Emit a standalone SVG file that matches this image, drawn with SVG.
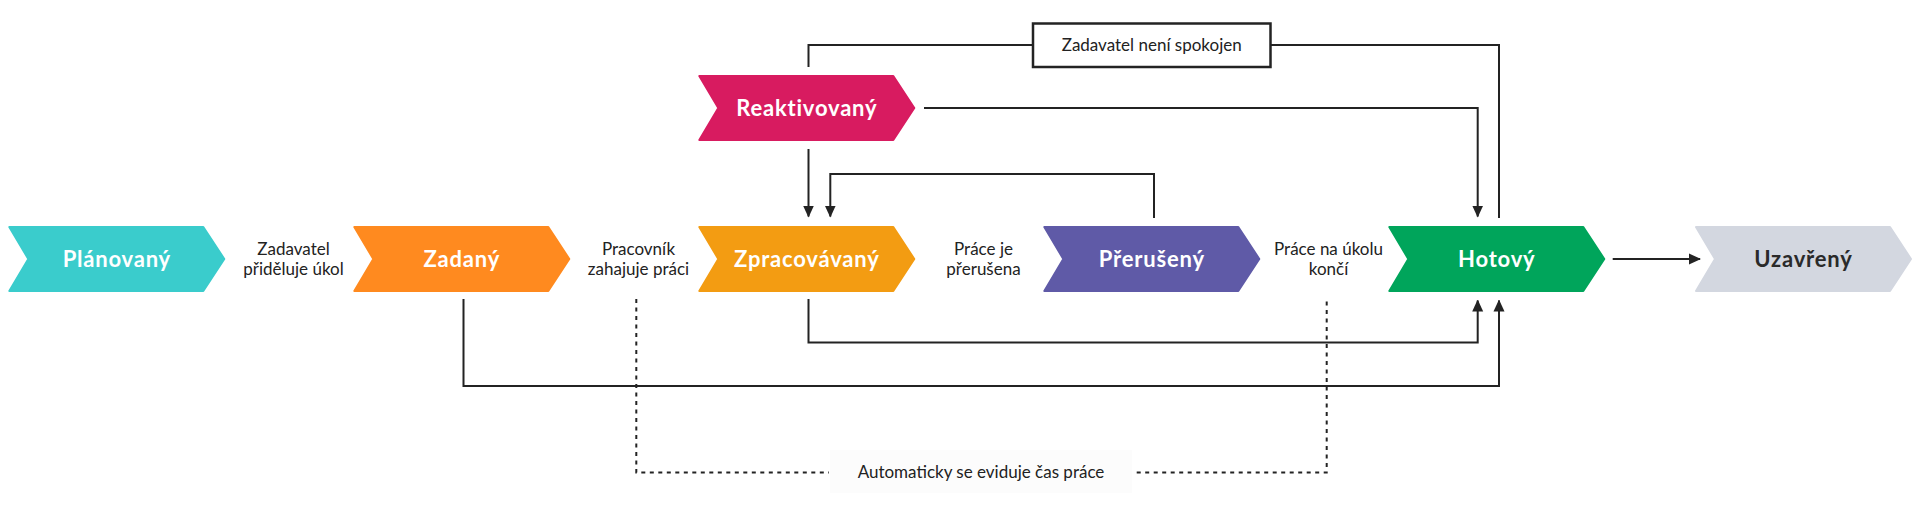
<svg xmlns="http://www.w3.org/2000/svg" width="1920" height="518" viewBox="0 0 1920 518">
<style>
.chev{stroke-width:2;stroke-linejoin:round}
.lbl{font-family:Lato,"Open Sans","Liberation Sans",sans-serif;font-weight:700;font-size:22px;letter-spacing:0.8px;fill:#fff;text-anchor:middle}
.txt{font-family:Lato,"Open Sans","Liberation Sans",sans-serif;font-size:17px;fill:#222;text-anchor:middle}
.con{fill:none;stroke:#232323;stroke-width:2}
.dot{fill:none;stroke:#232323;stroke-width:2;stroke-dasharray:4 4.5}
</style>
<defs>
<marker id="arr" viewBox="0 0 12 12" refX="11" refY="6" markerWidth="12" markerHeight="12" markerUnits="userSpaceOnUse" orient="auto">
<path d="M0,0.5 L12,6 L0,11.5 Z" fill="#232323"/>
</marker>
<path id="chevshape" d="M0,0 H194 L215,32 L194,64 H0 L19,32 Z"/>
</defs>
<rect width="1920" height="518" fill="#fff"/>

<g id="connectors">
<polyline class="con" points="808.5,67 808.5,45 1033,45"/>
<polyline class="con" points="1270.5,45 1499,45 1499,218"/>
<polyline class="con" points="924,108 1477.7,108 1477.7,216.5" marker-end="url(#arr)"/>
<polyline class="con" points="808.5,149 808.5,216.5" marker-end="url(#arr)"/>
<polyline class="con" points="1154,218 1154,174 830.3,174 830.3,216.5" marker-end="url(#arr)"/>
<polyline class="con" points="808.5,299 808.5,342.5 1477.7,342.5 1477.7,300.5" marker-end="url(#arr)"/>
<polyline class="con" points="463.5,299 463.5,386 1499,386 1499,300.5" marker-end="url(#arr)"/>
<polyline class="con" points="1612.7,259 1700,259" marker-end="url(#arr)"/>
<polyline class="dot" points="636.3,299 636.3,472.5 829,472.5"/>
<polyline class="dot" points="1136.7,472.5 1326.7,472.5 1326.7,299"/>
</g>

<g id="n-planovany">
<use href="#chevshape" x="9.3" y="227" fill="#3ACCCC" stroke="#3ACCCC" class="chev"/>
<text class="lbl" x="116.8" y="267">Plánovaný</text>
</g>
<g id="n-zadany">
<use href="#chevshape" x="354.3" y="227" fill="#FF8A1F" stroke="#FF8A1F" class="chev"/>
<text class="lbl" x="461.8" y="267">Zadaný</text>
</g>
<g id="n-zpracovavany">
<use href="#chevshape" x="699.3" y="227" fill="#F39C12" stroke="#F39C12" class="chev"/>
<text class="lbl" x="806.8" y="267">Zpracovávaný</text>
</g>
<g id="n-preruseny">
<use href="#chevshape" x="1044.3" y="227" fill="#5F5AA7" stroke="#5F5AA7" class="chev"/>
<text class="lbl" x="1151.8" y="267">Přerušený</text>
</g>
<g id="n-hotovy">
<use href="#chevshape" x="1389.3" y="227" fill="#00A55B" stroke="#00A55B" class="chev"/>
<text class="lbl" x="1496.8" y="267">Hotový</text>
</g>
<g id="n-uzavreny">
<use href="#chevshape" x="1696" y="227" fill="#D3D7E0" stroke="#D3D7E0" class="chev"/>
<text class="lbl" x="1803.5" y="267" style="fill:#2a2a2a">Uzavřený</text>
</g>
<g id="n-reaktivovany">
<use href="#chevshape" x="699.3" y="76" fill="#D81B60" stroke="#D81B60" class="chev"/>
<text class="lbl" x="806.8" y="116">Reaktivovaný</text>
</g>

<g id="l-zadavatel-prideluje">
<text class="txt" x="293.5" y="255">Zadavatel</text>
<text class="txt" x="293.5" y="275">přiděluje úkol</text>
</g>
<g id="l-pracovnik">
<text class="txt" x="638.5" y="255">Pracovník</text>
<text class="txt" x="638.5" y="275">zahajuje práci</text>
</g>
<g id="l-prace-prerusena">
<text class="txt" x="983.5" y="255">Práce je</text>
<text class="txt" x="983.5" y="275">přerušena</text>
</g>
<g id="l-prace-konci">
<text class="txt" x="1328.5" y="255">Práce na úkolu</text>
<text class="txt" x="1328.5" y="275">končí</text>
</g>
<g id="l-zadavatel-neni">
<rect x="1033" y="23.5" width="237.5" height="43.5" fill="#fff" stroke="#232323" stroke-width="2.5"/>
<text class="txt" x="1151.7" y="51">Zadavatel není spokojen</text>
</g>
<g id="l-automaticky">
<rect x="830" y="450" width="302" height="43" fill="#FCFCFC"/>
<text class="txt" x="981" y="478">Automaticky se eviduje čas práce</text>
</g>
</svg>
